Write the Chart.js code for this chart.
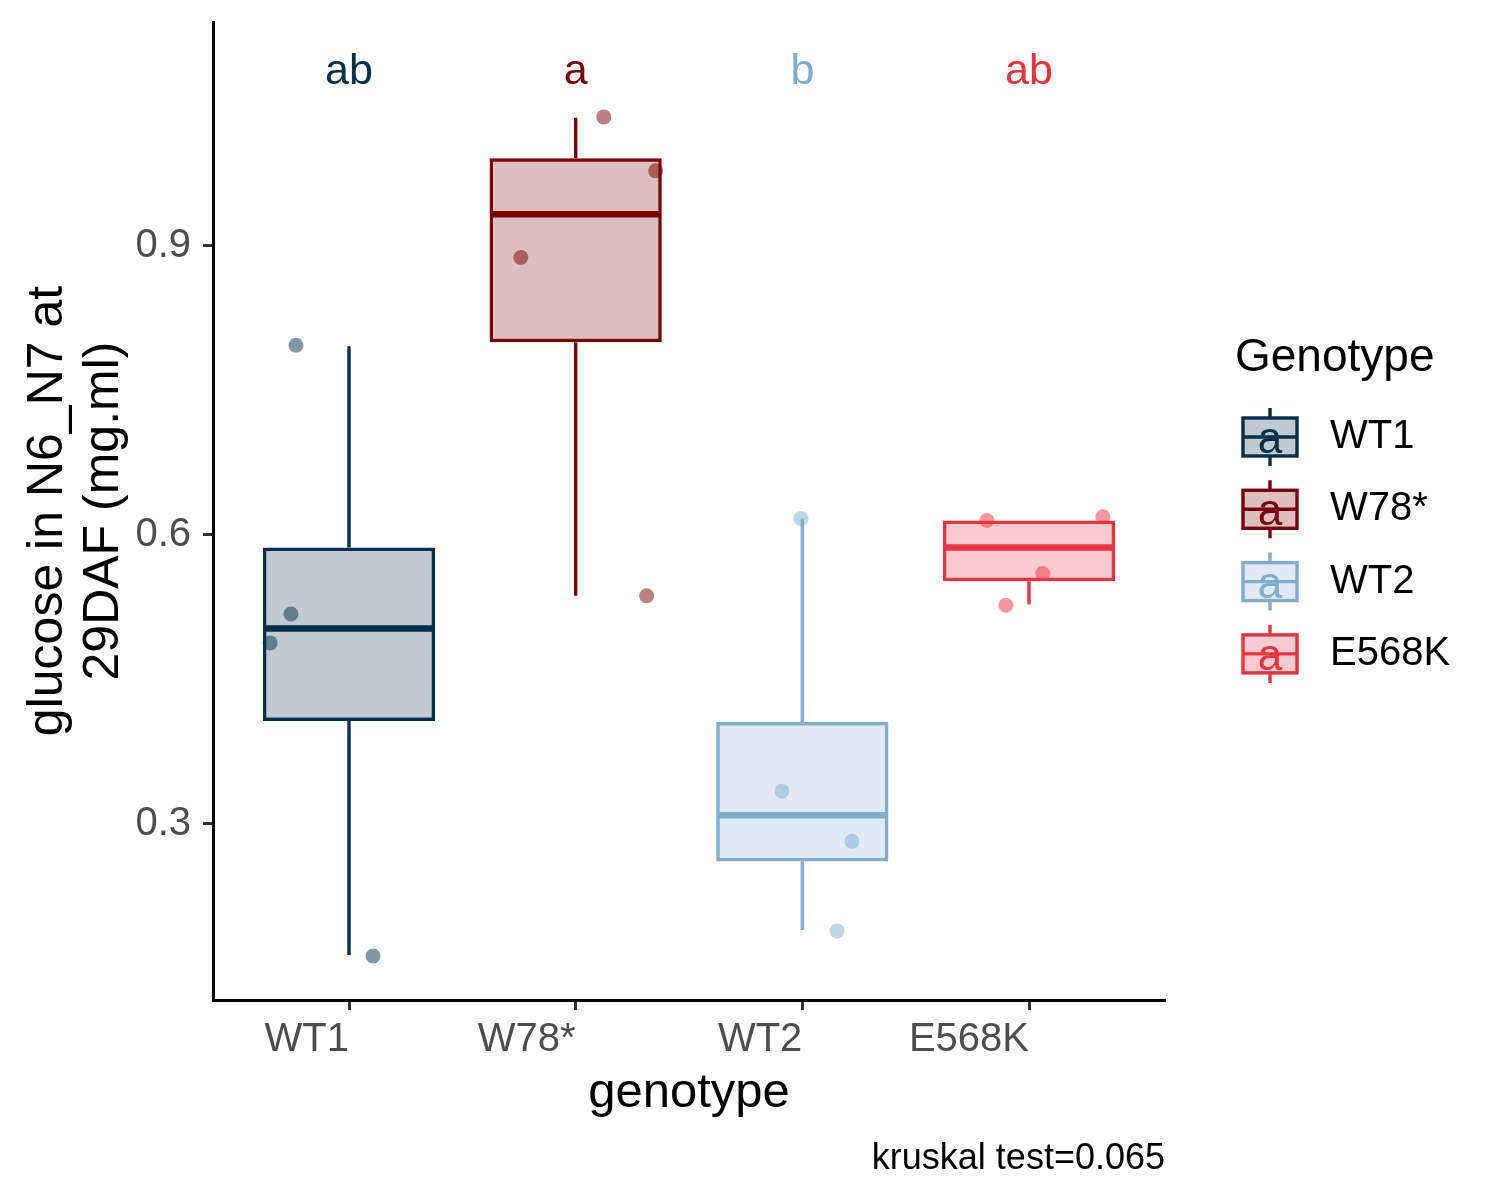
<!DOCTYPE html>
<html>
<head>
<meta charset="utf-8">
<script src="https://cdn.jsdelivr.net/npm/chart.js@4.4.1/dist/chart.umd.min.js"></script>
<style>
  html, body { margin: 0; padding: 0; background: #fff; }
  #wrap { width: 1500px; height: 1200px; }
</style>
</head>
<body>
<div id="wrap"><canvas id="boxChart" width="1500" height="1200"></canvas></div>
<script>
// data
const genotypes = ["WT1", "W78*", "WT2", "E568K"];
const colors = ["#003049", "#780000", "#7FADCB", "#EE323E"];
const letters = ["ab", "a", "b", "ab"];
const boxMin = [0.164, 0.537, 0.190, 0.528];
const boxQ1 = [0.407, 0.800, 0.261, 0.552];
const boxMedian = [0.503, 0.933, 0.309, 0.587];
const boxQ3 = [0.587, 0.991, 0.406, 0.615];
const boxMax = [0.796, 1.033, 0.617, 0.615];
// jittered sample points (x = category position + jitter)
const pointsX = [
  [0.766, 0.744, 0.652, 1.106],
  [2.124, 2.353, 1.758, 2.313],
  [2.994, 2.910, 3.219, 3.153],
  [3.814, 4.326, 4.061, 3.898],
];
const pointsY = [
  [0.797, 0.518, 0.488, 0.163],
  [1.034, 0.978, 0.888, 0.537],
  [0.617, 0.334, 0.282, 0.189],
  [0.615, 0.619, 0.560, 0.527],
];
const yTicks = [0.3, 0.6, 0.9];
const letterY = 1.068;

const FONT = "'Liberation Sans', Arial, sans-serif";
Chart.defaults.font.family = FONT;

function fade(hex, a) {
  const n = parseInt(hex.slice(1), 16);
  return `rgba(${(n >> 16) & 255},${(n >> 8) & 255},${n & 255},${a})`;
}

// whiskers, medians, letters, legend and titles
const boxExtras = {
  id: 'boxExtras',
  afterDatasetsDraw(chart) {
    const { ctx, scales: { x, y } } = chart;
    ctx.save();
    genotypes.forEach((g, i) => {
      const cx = x.getPixelForValue(i + 1);
      ctx.strokeStyle = colors[i];
      ctx.lineCap = 'butt';
      ctx.lineWidth = 3.4;
      ctx.beginPath();
      ctx.moveTo(cx, y.getPixelForValue(boxQ3[i]));
      ctx.lineTo(cx, y.getPixelForValue(boxMax[i]));
      ctx.moveTo(cx, y.getPixelForValue(boxQ1[i]));
      ctx.lineTo(cx, y.getPixelForValue(boxMin[i]));
      ctx.stroke();
      ctx.lineWidth = 6.5;
      ctx.beginPath();
      const my = y.getPixelForValue(boxMedian[i]);
      ctx.moveTo(x.getPixelForValue(i + 1 - 0.375), my);
      ctx.lineTo(x.getPixelForValue(i + 1 + 0.375), my);
      ctx.stroke();

      ctx.fillStyle = colors[i];
      ctx.font = `43px ${FONT}`;
      ctx.textAlign = 'center';
      ctx.textBaseline = 'alphabetic';
      ctx.fillText(letters[i], cx, y.getPixelForValue(letterY));
    });
    ctx.restore();
  },
  afterDraw(chart) {
    const { ctx, chartArea } = chart;
    ctx.save();
    ctx.fillStyle = '#000';
    ctx.textBaseline = 'alphabetic';

    // x title
    ctx.font = `49px ${FONT}`;
    ctx.textAlign = 'center';
    ctx.fillText('genotype', (chartArea.left + chartArea.right) / 2, 1107);

    // y title (two lines)
    const midY = (chartArea.top + chartArea.bottom) / 2;
    ctx.save();
    ctx.translate(0, midY);
    ctx.rotate(-Math.PI / 2);
    ctx.font = `50px ${FONT}`;
    ctx.fillText('glucose in N6_N7 at', 0, 62);
    ctx.fillText('29DAF (mg.ml)', 0, 118);
    ctx.restore();

    // caption
    ctx.font = `36px ${FONT}`;
    ctx.textAlign = 'right';
    ctx.fillText('kruskal test=0.065', chartArea.right, 1169);

    // legend
    ctx.textAlign = 'left';
    ctx.font = `46px ${FONT}`;
    ctx.textBaseline = 'middle';
    ctx.fillText('Genotype', 1235, 358);
    genotypes.forEach((g, i) => {
      const cy = 437 + i * 72.3;
      const kx = 1243, kw = 54, kh = 38;
      ctx.fillStyle = fade(colors[i], 0.25);
      ctx.fillRect(kx, cy - kh / 2, kw, kh);
      ctx.strokeStyle = colors[i];
      ctx.lineWidth = 3.4;
      ctx.strokeRect(kx, cy - kh / 2, kw, kh);
      ctx.beginPath();
      ctx.moveTo(kx, cy);
      ctx.lineTo(kx + kw, cy);
      ctx.moveTo(kx + kw / 2, cy - kh / 2);
      ctx.lineTo(kx + kw / 2, cy - kh / 2 - 10);
      ctx.moveTo(kx + kw / 2, cy + kh / 2);
      ctx.lineTo(kx + kw / 2, cy + kh / 2 + 10);
      ctx.stroke();
      ctx.fillStyle = colors[i];
      ctx.font = `44px ${FONT}`;
      ctx.textAlign = 'center';
      ctx.textBaseline = 'alphabetic';
      ctx.fillText('a', kx + kw / 2, cy + 16);
      ctx.fillStyle = '#000';
      ctx.font = `40px ${FONT}`;
      ctx.textAlign = 'left';
      ctx.textBaseline = 'middle';
      ctx.fillText(g, 1330, cy);
    });
    ctx.restore();
  }
};

const scatterSets = genotypes.map((g, i) => ({
  type: 'scatter',
  label: g,
  data: pointsX[i].map((px, j) => ({ x: px, y: pointsY[i][j] })),
  backgroundColor: fade(colors[i], 0.5),
  borderWidth: 0,
  pointRadius: 7.5,
  pointHoverRadius: 7.5,
  order: 1,
}));

new Chart(document.getElementById('boxChart'), {
  type: 'bar',
  data: {
    datasets: [
      {
        type: 'bar',
        label: 'box',
        data: genotypes.map((g, i) => ({ x: i + 1, y: [boxQ1[i], boxQ3[i]] })),
        backgroundColor: colors.map(c => fade(c, 0.25)),
        borderColor: colors,
        borderWidth: 3.5,
        borderSkipped: false,
        categoryPercentage: 1,
        barPercentage: 0.76,
        order: 0,
      },
      ...scatterSets,
    ],
  },
  options: {
    responsive: false,
    devicePixelRatio: 1,
    animation: false,
    layout: { padding: { top: 22, right: 335, left: 0, bottom: 0 } },
    plugins: {
      legend: { display: false },
      tooltip: { enabled: false },
    },
    scales: {
      x: {
        type: 'linear',
        offset: false,
        min: 0.4,
        max: 4.6,
        afterBuildTicks: s => { s.ticks = genotypes.map((g, i) => ({ value: i + 1 })); },
        afterFit: s => { s.height = 200; s.paddingLeft = 0; s.paddingRight = 0; },
        ticks: {
          callback: v => genotypes[v - 1],
          align: 'end',
          font: { size: 40 },
          color: '#4D4D4D',
          padding: 6,
          maxRotation: 0,
        },
        grid: {
          offset: false,
          drawOnChartArea: false,
          drawTicks: true,
          tickLength: 10,
          tickWidth: 3,
          tickColor: '#333',
        },
        border: { display: true, color: '#000', width: 3 },
      },
      y: {
        type: 'linear',
        min: 0.1173,
        max: 1.1325,
        afterBuildTicks: s => { s.ticks = yTicks.map(v => ({ value: v })); },
        afterFit: s => { s.width = 213; s.paddingTop = 0; s.paddingBottom = 0; },
        ticks: {
          callback: v => v.toFixed(1),
          font: { size: 40 },
          color: '#4D4D4D',
          padding: 12,
        },
        grid: {
          drawOnChartArea: false,
          drawTicks: true,
          tickLength: 10,
          tickWidth: 3,
          tickColor: '#333',
        },
        border: { display: true, color: '#000', width: 3 },
      },
    },
  },
  plugins: [boxExtras],
});
</script>
</body>
</html>
